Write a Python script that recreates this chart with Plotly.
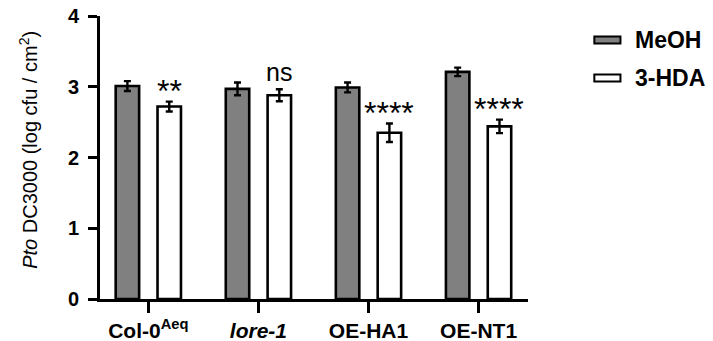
import plotly.graph_objects as go

categories = ["Col-0<sup>Aeq</sup>", "<i>lore-1</i>", "OE-HA1", "OE-NT1"]
meoh = [3.01, 2.97, 2.99, 3.21]
meoh_err = [0.07, 0.09, 0.07, 0.06]
hda = [2.72, 2.88, 2.35, 2.44]
hda_err = [0.07, 0.085, 0.13, 0.095]
signif = ["**", "ns", "****", "****"]

FONT = "Liberation Sans, Arial, sans-serif"
x_idx = list(range(len(categories)))
bw = 0.213
sep = 0.19

fig = go.Figure()
fig.add_trace(go.Bar(
    x=x_idx, y=meoh, name="MeOH", width=bw, offset=-sep - bw / 2,
    marker=dict(color="#808080", line=dict(color="black", width=2.6)),
    error_y=dict(type="data", array=meoh_err, color="black", thickness=2.4, width=3.5),
    showlegend=False,
))
fig.add_trace(go.Bar(
    x=x_idx, y=hda, name="3-HDA", width=bw, offset=sep - bw / 2,
    marker=dict(color="white", line=dict(color="black", width=2.6)),
    error_y=dict(type="data", array=hda_err, color="black", thickness=2.4, width=3.5),
    showlegend=False,
))

# significance labels
for i, (v, e, s) in enumerate(zip(hda, hda_err, signif)):
    is_ns = s == "ns"
    fig.add_annotation(
        x=i + sep, y=v + e, xref="x", yref="y", text=s, showarrow=False,
        xanchor="center", yanchor="bottom",
        yshift=1 if is_ns else -9,
        font=dict(family=FONT, size=25 if is_ns else 32, color="black"),
    )

# legend (drawn manually to match box style)
legend_items = [("MeOH", "#808080"), ("3-HDA", "white")]
for k, (lab, col) in enumerate(legend_items):
    yc = 0.915 - k * 0.134
    fig.add_shape(type="rect", xref="paper", yref="paper",
                  x0=1.155, x1=1.216, y0=yc - 0.0125, y1=yc + 0.0125,
                  fillcolor=col, line=dict(color="black", width=2))
    fig.add_annotation(xref="paper", yref="paper", x=1.246, y=yc, text=lab,
                       showarrow=False, xanchor="left", yanchor="middle",
                       font=dict(family=FONT, size=23, color="black", weight="bold"))

# y-axis title
fig.add_annotation(xref="paper", yref="paper", x=-0.166, y=0.527,
                   text="<i>Pto</i> DC3000 (log cfu / cm<sup>2</sup>)",
                   textangle=-90, showarrow=False, xanchor="center", yanchor="middle",
                   font=dict(family=FONT, size=20, color="black"))

fig.update_layout(
    width=713, height=341,
    margin=dict(l=100, r=185, t=16, b=42, autoexpand=False),
    plot_bgcolor="white", paper_bgcolor="white",
    barmode="overlay",
    xaxis=dict(
        range=[-0.439, 3.449], tickmode="array", tickvals=x_idx, ticktext=categories,
        showline=True, linecolor="black", linewidth=3,
        ticks="outside", ticklen=11, tickwidth=2.6, tickcolor="black",
        tickfont=dict(family=FONT, size=21, color="black", weight="bold"),
        showgrid=False, zeroline=False, automargin=False,
    ),
    yaxis=dict(
        range=[0, 4], tickvals=[0, 1, 2, 3, 4],
        showline=True, linecolor="black", linewidth=3,
        ticks="outside", ticklen=9, tickwidth=2.6, tickcolor="black",
        ticklabelstandoff=5,
        tickfont=dict(family=FONT, size=20, color="black", weight="bold"),
        showgrid=False, zeroline=False, automargin=False,
    ),
)

fig.write_html("out.html")
